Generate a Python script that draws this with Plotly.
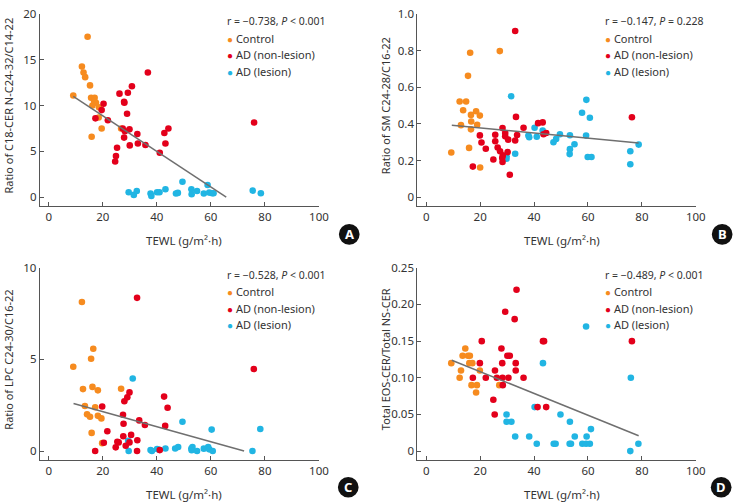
import plotly.graph_objects as go

W, H = 744, 503

# ---------------- data ----------------
A_ctrl_x = [14.4, 12.3, 12.9, 13.5, 15.3, 9.1, 15.7, 17.0, 17.5, 16.2, 18.6, 18.5, 19.6, 15.9, 26.8, 16.8]
A_ctrl_y = [17.5, 14.25, 13.6, 13.1, 12.2, 11.1, 10.85, 10.85, 10.3, 10.0, 9.8, 8.7, 7.5, 6.6, 7.5, 10.5]
A_non_x = [36.7, 30.8, 26.2, 29.3, 27.9, 28.0, 20.3, 19.6, 29.0, 21.9, 17.3, 27.4, 28.2, 29.9,
           32.8, 44.3, 42.8, 27.9, 33.0, 35.8, 30.0, 43.2, 25.3, 41.1, 24.9, 24.6, 76.0]
A_non_y = [13.6, 12.1, 11.3, 11.4, 10.4, 10.3, 10.2, 9.5, 9.1, 8.4, 8.6, 7.5, 7.2, 7.4,
           6.9, 7.5, 7.0, 6.5, 5.85, 5.7, 5.65, 5.85, 5.4, 4.85, 4.5, 3.9, 8.15]
A_les_x = [29.6, 31.5, 32.6, 37.7, 38.0, 40.1, 41.0, 43.2, 47.1, 47.8, 49.5, 52.8, 52.9,
           54.9, 57.4, 58.8, 59.4, 60.5, 61.0, 75.5, 78.5]
A_les_y = [0.54, 0.25, 0.68, 0.4, 0.14, 0.54, 0.54, 0.86, 0.4, 0.47, 1.69, 0.86, 0.32,
           0.68, 0.4, 1.33, 0.5, 0.43, 0.43, 0.72, 0.43]
A_fit_x = [9.1, 65.7]
A_fit_y = [11.0, 0.0]
A_stat = "r = \u22120.738, <i>P</i> < 0.001"

B_ctrl_x = [16.3, 27.3, 15.5, 12.4, 14.8, 13.7, 18.5, 16.6, 19.9, 12.9, 18.9, 16.7, 16.6, 15.9, 9.3, 20.0]
B_ctrl_y = [0.788, 0.797, 0.662, 0.522, 0.522, 0.474, 0.469, 0.449, 0.445, 0.393, 0.395, 0.413,
            0.37, 0.269, 0.244, 0.162]
B_non_x = [33.0, 33.3, 76.3, 36.1, 41.5, 43.2, 44.5, 43.5, 19.9, 25.6, 29.3, 29.3, 33.7, 30.4,
           33.0, 25.6, 20.5, 26.5, 22.1, 27.4, 30.2, 28.4, 28.2, 24.9, 28.3, 17.3, 31.0, 28.3]
B_non_y = [0.907, 0.438, 0.436, 0.379, 0.404, 0.408, 0.35, 0.343, 0.337, 0.341, 0.35, 0.332,
           0.339, 0.314, 0.309, 0.305, 0.298, 0.271, 0.264, 0.251, 0.246, 0.228, 0.214, 0.206,
           0.192, 0.167, 0.122, 0.377]
B_les_x = [31.5, 59.4, 57.8, 60.7, 40.2, 43.2, 37.9, 38.2, 41.0, 49.6, 48.2, 47.2, 53.3, 59.3,
           55.0, 53.3, 53.2, 33.0, 29.8, 29.8, 59.9, 61.3, 78.8, 75.7, 75.7]
B_les_y = [0.551, 0.531, 0.461, 0.433, 0.379, 0.364, 0.336, 0.327, 0.33, 0.343, 0.318, 0.3,
           0.338, 0.336, 0.289, 0.262, 0.235, 0.237, 0.224, 0.21, 0.219, 0.219, 0.287, 0.251, 0.18]
B_fit_x = [9.5, 78.8]
B_fit_y = [0.393, 0.296]
B_stat = "r = \u22120.147, <i>P</i> = 0.228"

C_ctrl_x = [12.3, 16.5, 15.7, 9.1, 12.7, 16.2, 18.2, 26.8, 13.4, 17.2, 14.2, 15.3, 18.2, 19.5, 15.9, 19.8]
C_ctrl_y = [8.13, 5.58, 5.04, 4.6, 3.38, 3.5, 3.31, 3.4, 2.46, 2.39, 2.0, 1.87, 1.92, 1.78, 0.99, 0.43]
C_non_x = [32.7, 75.9, 29.9, 29.1, 28.0, 42.7, 44.0, 19.8, 27.5, 33.5, 27.7, 35.6, 43.1, 21.7,
           30.5, 27.6, 20.4, 25.4, 25.9, 29.9, 32.8, 28.5, 24.8, 17.2, 32.7, 41.1]
C_non_y = [8.36, 4.48, 3.2, 2.93, 2.72, 2.97, 2.36, 2.43, 1.98, 1.67, 1.49, 1.42, 1.37, 1.08,
           0.88, 0.81, 0.45, 0.5, 0.47, 0.47, 0.59, 0.29, 0.2, 0.0, 0.0, 0.05]
C_les_x = [31.1, 49.5, 60.3, 78.3, 29.4, 29.6, 37.7, 38.2, 40.1, 40.9, 43.2, 46.8, 47.9, 52.8,
           53.2, 52.9, 54.9, 57.4, 59.0, 59.4, 60.7, 75.4]
C_les_y = [3.96, 1.6, 1.17, 1.2, 0.56, 0.0, 0.05, 0.0, 0.11, 0.07, 0.14, 0.14, 0.22, 0.14,
           0.22, 0.04, 0.0, 0.13, 0.22, 0.09, 0.0, 0.0]
C_fit_x = [9.2, 72.3]
C_fit_y = [2.59, 0.0]
C_stat = "r = \u22120.528, <i>P</i> < 0.001"

D_ctrl_x = [14.5, 13.5, 15.5, 16.2, 9.3, 16.0, 17.1, 12.9, 19.9, 12.4, 16.8, 18.8, 27.1, 18.5]
D_ctrl_y = [0.14, 0.13, 0.13, 0.13, 0.12, 0.12, 0.12, 0.11, 0.11, 0.10, 0.09, 0.09, 0.09, 0.08]
D_non_x = [33.5, 29.3, 32.8, 20.6, 43.3, 43.7, 76.3, 27.9, 30.1, 31.0, 19.9, 28.2, 33.2, 25.5,
           33.2, 17.3, 22.1, 26.2, 28.3, 30.5, 36.1, 28.4, 24.9, 41.3, 44.5, 25.4]
D_non_y = [0.22, 0.19, 0.18, 0.15, 0.15, 0.15, 0.15, 0.14, 0.13, 0.13, 0.12, 0.12, 0.12, 0.11,
           0.11, 0.10, 0.10, 0.10, 0.10, 0.10, 0.10, 0.09, 0.07, 0.06, 0.06, 0.05]
D_les_x = [59.3, 43.3, 75.9, 40.2, 29.8, 49.8, 29.8, 31.6, 53.3, 61.1, 33.0, 38.2, 55.1, 59.5,
           41.0, 47.3, 48.0, 53.2, 53.7, 57.9, 59.3, 60.7, 78.7, 75.7]
D_les_y = [0.17, 0.12, 0.10, 0.06, 0.05, 0.05, 0.04, 0.04, 0.04, 0.03, 0.02, 0.02, 0.02, 0.02,
           0.01, 0.01, 0.01, 0.01, 0.01, 0.01, 0.01, 0.01, 0.01, 0.0]
D_fit_x = [9.5, 78.8]
D_fit_y = [0.124, 0.021]
D_stat = "r = \u22120.489, <i>P</i> < 0.001"

groups = ["Control", "AD (non-lesion)", "AD (lesion)"]
x_ticks = [0, 20, 40, 60, 80, 100]
A_ticks, A_ticktext = [0, 5, 10, 15, 20], ["0", "5", "10", "15", "20"]
B_ticks, B_ticktext = [0, 0.2, 0.4, 0.6, 0.8, 1.0], ["0", "0.2", "0.4", "0.6", "0.8", "1.0"]
C_ticks, C_ticktext = [0, 5, 10], ["0", "5", "10"]
D_ticks, D_ticktext = [0, 0.05, 0.10, 0.15, 0.20, 0.25], ["0", "0.05", "0.10", "0.15", "0.20", "0.25"]
A_ytitle = "Ratio of C18-CER N-C24-32/C14-22"
B_ytitle = "Ratio of SM C24-28/C16-22"
C_ytitle = "Ratio of LPC C24-30/C16-22"
D_ytitle = "Total EOS-CER/Total NS-CER"
x_title = "TEWL (g/m\u00b2\u00b7h)"

COLORS = {"Control": "#F68B1F", "AD (non-lesion)": "#E3001B", "AD (lesion)": "#21B5E3"}
FONT = "Noto Sans"
AXC = "#555555"
TXT = "#333333"


def px(x):
    return x / W


def py(y):
    return 1 - y / H


panels = [
    dict(key="", ctrl=(A_ctrl_x, A_ctrl_y), non=(A_non_x, A_non_y), les=(A_les_x, A_les_y),
         fit=(A_fit_x, A_fit_y), stat=A_stat, yt=A_ticks, ytt=A_ticktext, yr=[-0.94, 20],
         ytitle=A_ytitle, letter="A",
         dom=(40.3, 323.3, 6.0, 201.0), leg=(228.5, 13.5), badge=(354, 230)),
    dict(key="2", ctrl=(B_ctrl_x, B_ctrl_y), non=(B_non_x, B_non_y), les=(B_les_x, B_les_y),
         fit=(B_fit_x, B_fit_y), stat=B_stat, yt=B_ticks, ytt=B_ticktext, yr=[-0.047, 1.0],
         ytitle=B_ytitle, letter="B",
         dom=(423.0, 705.3, 6.0, 201.0), leg=(611.0, 13.5), badge=(732, 230)),
    dict(key="3", ctrl=(C_ctrl_x, C_ctrl_y), non=(C_non_x, C_non_y), les=(C_les_x, C_les_y),
         fit=(C_fit_x, C_fit_y), stat=C_stat, yt=C_ticks, ytt=C_ticktext, yr=[-0.49, 10],
         ytitle=C_ytitle, letter="C",
         dom=(40.3, 323.3, 264.0, 459.3), leg=(228.5, 271.0), badge=(353, 487)),
    dict(key="4", ctrl=(D_ctrl_x, D_ctrl_y), non=(D_non_x, D_non_y), les=(D_les_x, D_les_y),
         fit=(D_fit_x, D_fit_y), stat=D_stat, yt=D_ticks, ytt=D_ticktext, yr=[-0.0121, 0.25],
         ytitle=D_ytitle, letter="D",
         dom=(423.0, 705.3, 264.0, 459.3), leg=(611.0, 271.0), badge=(731, 487)),
]

fig = go.Figure()
annotations = []
shapes = []
layout_axes = {}

for p in panels:
    k = p["key"]
    xa, ya = "x" + k, "y" + k
    order = [("Control", p["ctrl"]), ("AD (lesion)", p["les"]), ("AD (non-lesion)", p["non"])]
    for name, (xs, ys) in order:
        fig.add_trace(go.Scatter(
            x=xs, y=ys, mode="markers", xaxis=xa, yaxis=ya, showlegend=False,
            marker=dict(color=COLORS[name], size=6.6, line=dict(width=0)), name=name))
    fig.add_trace(go.Scatter(
        x=p["fit"][0], y=p["fit"][1], mode="lines", xaxis=xa, yaxis=ya, showlegend=False,
        line=dict(color="#6f6f6f", width=1.5)))

    x0, x1, y0, y1 = p["dom"]
    common = dict(showline=True, linecolor=AXC, linewidth=1, ticks="inside", ticklen=4,
                  tickcolor=AXC, tickwidth=1, showgrid=False, zeroline=False,
                  tickfont=dict(family=FONT, size=11.5, color=TXT))
    layout_axes["xaxis" + k] = dict(common, domain=[px(x0), px(x1)], range=[-3.3, 100],
                                    tickvals=x_ticks, anchor=ya)
    layout_axes["yaxis" + k] = dict(common, domain=[py(y1), py(y0)], range=p["yr"],
                                    tickvals=p["yt"], ticktext=p["ytt"], anchor=xa)

    annotations.append(dict(text=x_title, xref="paper", yref="paper",
                            x=px((x0 + x1) / 2 + 5), y=py(y1 + 35), xanchor="center", yanchor="middle",
                            showarrow=False, font=dict(family=FONT, size=11.5, color=TXT)))
    annotations.append(dict(text=p["ytitle"], xref="paper", yref="paper", textangle=-90,
                            x=px(x0 - 32), y=py((y0 + y1) / 2 - 4.5), xanchor="center", yanchor="middle",
                            showarrow=False, font=dict(family=FONT, size=11, color=TXT)))

    lx, ly = p["leg"]
    annotations.append(dict(text=p["stat"], xref="paper", yref="paper", x=px(lx), y=py(ly),
                            xanchor="left", yanchor="middle", showarrow=False,
                            font=dict(family=FONT, size=10.5, color=TXT)))
    for i, g in enumerate(groups):
        annotations.append(dict(
            text='<span style="color:%s;font-size:10px">\u25cf</span> %s' % (COLORS[g], g),
            xref="paper", yref="paper", x=px(lx), y=py(ly + 17 * (i + 1)),
            xanchor="left", yanchor="middle", showarrow=False,
            font=dict(family=FONT, size=11, color=TXT)))

    bx, by = p["badge"]
    r = 10.5
    shapes.append(dict(type="circle", xref="paper", yref="paper",
                       x0=px(bx - r), x1=px(bx + r), y0=py(by + r), y1=py(by - r),
                       fillcolor="#111111", line=dict(width=0)))
    annotations.append(dict(text="<b>%s</b>" % p["letter"], xref="paper", yref="paper",
                            x=px(bx), y=py(by), xanchor="center", yanchor="middle", showarrow=False,
                            font=dict(family=FONT, size=13, color="white")))

fig.update_layout(
    width=W, height=H, margin=dict(l=0, r=0, t=0, b=0),
    paper_bgcolor="white", plot_bgcolor="white",
    annotations=annotations, shapes=shapes, showlegend=False,
    font=dict(family=FONT, color=TXT),
    **layout_axes,
)

fig.write_html(
    "out.html",
    config={"displayModeBar": False},
    post_script=(
        "document.body.style.margin='0';document.body.style.overflow='hidden';"
        "var gd=document.getElementById('{plot_id}');"
        "gd.style.position='fixed';gd.style.left='0px';gd.style.top='0px';"
    ),
)
